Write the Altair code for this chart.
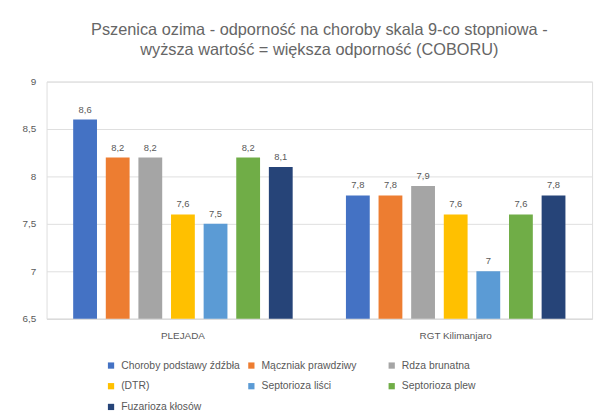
import altair as alt
import pandas as pd

odmiany = ["PLEJADA", "RGT Kilimanjaro"]
choroby = ["Choroby podstawy źdźbła", "Mączniak prawdziwy", "Rdza brunatna", "(DTR)",
           "Septorioza liści", "Septorioza plew", "Fuzarioza kłosów"]
plejada = [8.6, 8.2, 8.2, 7.6, 7.5, 8.2, 8.1]
rgt = [7.8, 7.8, 7.9, 7.6, 7.0, 7.6, 7.8]
kolory = ["#4472C4", "#ED7D31", "#A5A5A5", "#FFC000", "#5B9BD5", "#70AD47", "#264478"]
y_ticks = [6.5, 7, 7.5, 8, 8.5, 9]

rows = []
for odm, vals in zip(odmiany, [plejada, rgt]):
    for ch, v in zip(choroby, vals):
        rows.append({"odmiana": odm, "choroba": ch, "wartosc": v})
df = pd.DataFrame(rows)

FONT = "Liberation Sans"
GRAY = "#595959"

base = alt.Chart(df).transform_calculate(
    etykieta="replace(toString(datum.wartosc), '.', ',')"
).encode(
    x=alt.X("odmiana:N", sort=odmiany, title=None,
            scale=alt.Scale(paddingInner=0.163, paddingOuter=0.0815),
            axis=alt.Axis(labelAngle=0, labelColor=GRAY, labelFontSize=10, labelFont=FONT,
                          ticks=False, domainColor="#D9D9D9", labelPadding=12)),
    xOffset=alt.XOffset("choroba:N", sort=choroby,
                        scale=alt.Scale(paddingInner=0.27, paddingOuter=0.135)),
)

bars = base.mark_bar().encode(
    y=alt.Y("wartosc:Q", title=None,
            scale=alt.Scale(domain=[6.5, 9], zero=False, nice=False),
            axis=alt.Axis(values=y_ticks, labelColor=GRAY, labelFontSize=10, labelFont=FONT,
                          ticks=False, domain=False, gridColor="#DEDEDE", labelPadding=11,
                          labelExpr="replace(toString(datum.value), '.', ',')")),
    y2=alt.datum(6.5),
    color=alt.Color("choroba:N", sort=choroby,
                    scale=alt.Scale(domain=choroby, range=kolory),
                    legend=alt.Legend(title=None, orient="none", legendX=60, legendY=282,
                                      direction="horizontal",
                                      columns=3, symbolType="square", symbolSize=40,
                                      labelFontSize=10.5, labelFont=FONT, labelColor=GRAY,
                                      gridAlign="all", columnPadding=6, rowPadding=10,
                                      labelLimit=300, padding=0, symbolStrokeWidth=0,
                                      labelOffset=5)),
)

labels = base.mark_text(baseline="bottom", dy=-5, fontSize=9.5, font=FONT, color=GRAY).encode(
    y=alt.Y("wartosc:Q"),
    text="etykieta:N",
)

chart = alt.layer(bars, labels).properties(
    width=552,
    height=240,
    title=alt.Title(
        ["Pszenica ozima - odporność na choroby skala 9-co stopniowa -",
         "wyższa wartość = większa odporność  (COBORU)"],
        fontSize=16.5, font=FONT, color="#666666", fontWeight="normal",
        lineHeight=21, offset=18, anchor="middle"),
    autosize=alt.AutoSizeParams(type="none"),
    padding={"left": 39, "top": 72, "right": 6, "bottom": 97},
).configure_view(stroke=None).configure(background="white")

chart.save("out.html", embed_options={"renderer": "svg", "actions": False})
